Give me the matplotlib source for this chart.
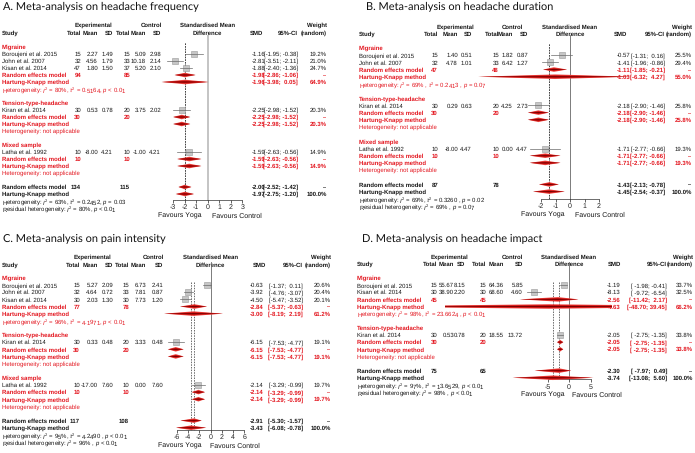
import matplotlib
matplotlib.use('Agg')
import matplotlib.pyplot as plt
from matplotlib.patches import Polygon, Rectangle

plt.rcParams['font.family'] = ['Liberation Sans', 'DejaVu Sans']
plt.rcParams['mathtext.fontset'] = 'custom'
plt.rcParams['mathtext.rm'] = 'Liberation Sans'
plt.rcParams['mathtext.it'] = 'Liberation Sans:italic'
plt.rcParams['mathtext.bf'] = 'Liberation Sans:bold'
plt.rcParams['text.hinting'] = 'no_hinting'
plt.rcParams['text.hinting_factor'] = 1

# ---------------- DATA ----------------
# Panel A: headache frequency
A_title = "A. Meta-analysis on headache frequency"
A_groups = ["Migraine", "Tension-type-headache", "Mixed sample"]
A_studies = ["Boroujeni et al. 2015", "John et al. 2007", "Kisan et al. 2014", "Kiran et al. 2014", "Latha et al. 1992"]
A_group_of = [0, 0, 0, 1, 2]
A_exp_n = [15, 32, 47, 30, 10]
A_exp_mean = [2.27, 4.56, 1.80, 0.53, -8.00]
A_exp_sd = [1.49, 1.79, 1.50, 0.78, 4.21]
A_ctl_n = [15, 33, 37, 20, 10]
A_ctl_mean = [5.09, 10.18, 5.20, 3.75, -1.00]
A_ctl_sd = [2.98, 2.14, 2.10, 2.02, 4.21]
A_smd = [-1.16, -2.81, -1.88, -2.25, -1.59]
A_lo = [-1.95, -3.51, -2.40, -2.98, -2.63]
A_hi = [-0.38, -2.11, -1.36, -1.52, -0.56]
A_w = [19.2, 21.0, 24.7, 20.3, 14.9]
A_sub_n_exp = [94, 30, 10]
A_sub_n_ctl = [85, 20, 10]
A_sub_rem_smd = [-1.98, -2.25, -1.59]
A_sub_rem_lo = [-2.86, -2.98, -2.63]
A_sub_rem_hi = [-1.06, -1.52, -0.56]
A_sub_hk_smd = [-1.96, -2.25, -1.59]
A_sub_hk_lo = [-3.98, -2.98, -2.63]
A_sub_hk_hi = [0.05, -1.52, -0.56]
A_sub_hk_w = [64.9, 20.3, 14.9]
A_sub_het = [r"Heterogeneity: $I^2$ = 80%, $\tau^2$ = 0.5164, $p$ < 0.01",
             "Heterogeneity: not applicable", "Heterogeneity: not applicable"]
A_all_n = [134, 115]
A_all_rem = [-2.00, -2.52, -1.42]
A_all_hk = [-1.97, -2.75, -1.20]
A_all_het = r"Heterogeneity: $I^2$ = 63%, $\tau^2$ = 0.2452, $p$ = 0.03"
A_resid = r"Residual heterogeneity: $I^2$ = 80%, $p$ < 0.01"
A_ticks = [-3, -2, -1, 0, 1, 2, 3]

# Panel B: headache duration
B_title = "B. Meta-analysis on headache duration"
B_groups = ["Migraine", "Tension-type-headache", "Mixed sample"]
B_studies = ["Boroujeni et al. 2015", "John et al. 2007", "Kiran et al. 2014", "Latha et al. 1992"]
B_group_of = [0, 0, 1, 2]
B_exp_n = [15, 32, 30, 10]
B_exp_mean = [1.40, 4.78, 0.29, -8.00]
B_exp_sd = [0.51, 1.01, 0.63, 4.47]
B_ctl_n = [15, 33, 20, 10]
B_ctl_mean = [1.82, 6.42, 4.25, 0.00]
B_ctl_sd = [0.87, 1.27, 2.73, 4.47]
B_smd = [-0.57, -1.41, -2.18, -1.71]
B_lo = [-1.31, -1.96, -2.90, -2.77]
B_hi = [0.16, -0.86, -1.46, -0.66]
B_w = [25.5, 29.4, 25.8, 19.3]
B_sub_n_exp = [47, 30, 10]
B_sub_n_ctl = [48, 20, 10]
B_sub_rem_smd = [-1.11, -2.18, -1.71]
B_sub_rem_lo = [-1.85, -2.90, -2.77]
B_sub_rem_hi = [-0.21, -1.46, -0.66]
B_sub_hk_smd = [-1.03, -2.18, -1.71]
B_sub_hk_lo = [-6.32, -2.90, -2.77]
B_sub_hk_hi = [4.27, -1.46, -0.66]
B_sub_hk_w = [55.0, 25.8, 19.3]
B_sub_het = [r"Heterogeneity: $I^2$ = 69% , $\tau^2$ = 0.2413 , $p$ = 0.07",
             "Heterogeneity: not applicable", "Heterogeneity: not applicable"]
B_all_n = [87, 78]
B_all_rem = [-1.43, -2.13, -0.78]
B_all_hk = [-1.45, -2.54, -0.37]
B_all_het = r"Heterogeneity: $I^2$ = 69%, $\tau^2$ = 0.3260 , $p$ = 0.02"
B_resid = r"Residual heterogeneity: $I^2$ = 69% , $p$ = 0.07"
B_ticks = [-2, -1, 0, 1, 2]

# Panel C: pain intensity
C_title = "C. Meta-analysis on pain intensity"
C_groups = ["Migraine", "Tension-type-headache", "Mixed sample"]
C_studies = ["Boroujeni et al. 2015", "John et al. 2007", "Kisan et al. 2014", "Kiran et al. 2014", "Latha et al. 1992"]
C_group_of = [0, 0, 0, 1, 2]
C_exp_n = [15, 32, 30, 30, 10]
C_exp_mean = [5.27, 4.64, 2.03, 0.33, -17.00]
C_exp_sd = [2.09, 0.72, 1.30, 0.48, 7.60]
C_ctl_n = [15, 33, 30, 20, 10]
C_ctl_mean = [6.73, 7.81, 7.73, 3.33, 0.00]
C_ctl_sd = [2.41, 0.87, 1.20, 0.48, 7.60]
C_smd = [-0.63, -3.92, -4.50, -6.15, -2.14]
C_lo = [-1.37, -4.76, -5.47, -7.53, -3.29]
C_hi = [0.11, -3.07, -3.52, -4.77, -0.99]
C_w = [20.6, 20.4, 20.1, 19.1, 19.7]
C_sub_n_exp = [77, 30, 10]
C_sub_n_ctl = [78, 20, 10]
C_sub_rem_smd = [-2.84, -6.15, -2.14]
C_sub_rem_lo = [-5.37, -7.53, -3.29]
C_sub_rem_hi = [-0.63, -4.77, -0.99]
C_sub_hk_smd = [-3.00, -6.15, -2.14]
C_sub_hk_lo = [-8.19, -7.53, -3.29]
C_sub_hk_hi = [2.19, -4.77, -0.99]
C_sub_hk_w = [61.2, 19.1, 19.7]
C_sub_het = [r"Heterogeneity: $I^2$ = 96%, $\tau^2$ = 4.1971, $p$ < 0.01",
             "Heterogeneity: not applicable", "Heterogeneity: not applicable"]
C_all_n = [117, 108]
C_all_rem = [-2.91, -5.30, -1.57]
C_all_hk = [-3.43, -6.08, -0.78]
C_all_het = r"Heterogeneity: $I^2$ = 95%, $\tau^2$ = 4.2490 , $p$ < 0.01"
C_resid = r"Residual heterogeneity: $I^2$ = 96% , $p$ < 0.01"
C_ticks = [-6, -4, -2, 0, 2, 4, 6]

# Panel D: headache impact
D_title = "D. Meta-analysis on headache impact"
D_groups = ["Migraine", "Tension-type-headache"]
D_studies = ["Boroujeni et al. 2015", "Kisan et al. 2014", "Kiran et al. 2014"]
D_group_of = [0, 0, 1]
D_exp_n = [15, 30, 30]
D_exp_mean = [55.67, 38.90, 0.53]
D_exp_sd = [8.15, 2.20, 0.78]
D_ctl_n = [15, 30, 20]
D_ctl_mean = [64.36, 68.60, 18.55]
D_ctl_sd = [5.85, 4.60, 13.72]
D_smd = [-1.19, -8.13, -2.05]
D_lo = [-1.98, -9.72, -2.75]
D_hi = [-0.41, -6.54, -1.35]
D_w = [33.7, 32.5, 33.8]
D_sub_n_exp = [45, 30]
D_sub_n_ctl = [45, 20]
D_sub_rem_smd = [-2.56, -2.05]
D_sub_rem_lo = [-11.42, -2.75]
D_sub_rem_hi = [2.17, -1.35]
D_sub_hk_smd = [-4.63, -2.05]
D_sub_hk_lo = [-48.70, -2.75]
D_sub_hk_hi = [39.45, -1.35]
D_sub_hk_w = [66.2, 33.8]
D_sub_het = [r"Heterogeneity: $I^2$ = 98%, $\tau^2$ = 23.6624 , $p$ < 0.01",
             "Heterogeneity: not applicable"]
D_all_n = [75, 65]
D_all_rem = [-2.30, -7.97, 0.49]
D_all_hk = [-3.74, -13.08, 5.60]
D_all_het = r"Heterogeneity: $I^2$ = 97%, $\tau^2$ = 13.6529, $p$ < 0.01"
D_resid = r"Residual heterogeneity: $I^2$ = 98% , $p$ < 0.01"
D_ticks = [-5, 0, 5]

# ---------------- LAYOUT (pixels) ----------------
W, H = 695, 453
RED = '#e3161f'
BLK = '#151515'
FS = 4.5
FS_HET = 4.3

LAYOUT = {
    'A': dict(title=(3, 7), study_x=2, cols=[81, 98, 113, 130, 146, 161], exp_c=93, ctl_c=151,
              hdr=(25, 33), y0=47, dy=7.0, zero=207.7, scale=11.55, axis_y=199.5,
              smd_r=265, ci_r=298, w_r=327, smd_c=256, ref_top=36, dash_top=43,
              fav=(202, 212), clip=(150, 262), ref_light=True),
    'B': dict(title=(366, 7), study_x=359, cols=[438, 458, 472, 499, 513, 528], exp_c=455, ctl_c=512,
              hdr=(27, 34), y0=48, dy=7.18, zero=570, scale=14.5, axis_y=198.5,
              smd_r=630, ci_r=665, w_r=692, smd_c=620, ref_top=35, dash_top=44,
              fav=(565, 575), clip=(440, 634), ref_light=False),
    'C': dict(title=(3, 239), study_x=2, cols=[80, 98, 113, 129, 146, 163], exp_c=92, ctl_c=153,
              hdr=(257, 265), y0=278, dy=7.13, zero=210.5, scale=5.65, axis_y=429.5,
              smd_r=263, ci_r=303, w_r=331, smd_c=259, ref_top=262, dash_top=282,
              fav=(202, 210), clip=(150, 250), ref_light=False),
    'D': dict(title=(362, 239), study_x=357, cols=[437.5, 454, 465, 486.5, 504, 523], exp_c=449, ctl_c=512,
              hdr=(257, 264), y0=278, dy=7.125, zero=569, scale=4.3, axis_y=379,
              smd_r=620, ci_r=667, w_r=693, smd_c=614, ref_top=262, dash_top=282,
              fav=(565, 572), clip=(445, 612), ref_light=False),
}

fig = plt.figure(figsize=(W / 100, H / 100), dpi=100)
ov = fig.add_axes([0, 0, 1, 1])
ov.set_xlim(0, W)
ov.set_ylim(H, 0)
ov.axis('off')


def txt(x, y, s, ha='left', color=BLK, weight='normal', size=FS):
    ov.text(x, y, s, ha=ha, va='center_baseline', color=color, fontweight=weight, fontsize=size)


def ci_str(lo, hi, wl, wh):
    return "[" + f"{lo:.2f}".rjust(wl) + "; " + f"{hi:.2f}".rjust(wh) + "]"


def diamond(ax, yy, est, lo, hi, h, clip):
    layers = [(1.0, '#ec4a44'), (0.62, '#d0100f'), (0.26, '#7a0000')]
    for f, col in layers:
        poly = Polygon([(lo, yy), (est, yy - h * f / 2), (hi, yy), (est, yy + h * f / 2)],
                       closed=True, fc=col, ec='none', zorder=3)
        ax.add_patch(poly)
        rect = Rectangle((clip[0], 0), clip[1] - clip[0], H, transform=ov.transData)
        poly.set_clip_path(rect)


def draw_panel(P, L):
    ov.text(L['title'][0], L['title'][1], P['title'], fontsize=8.0, family=['Lato', 'DejaVu Sans'],
            ha='left', va='center', color='#111111')
    h1, h2 = L['hdr']
    c = L['cols']
    txt(L['exp_c'], h1, 'Experimental', ha='center', weight='bold')
    txt(L['ctl_c'], h1, 'Control', ha='center', weight='bold')
    txt(L['zero'], h1, 'Standardised Mean', ha='center', weight='bold')
    txt(L['w_r'], h1, 'Weight', ha='right', weight='bold')
    txt(L['study_x'], h2, 'Study', weight='bold')
    for x, lab in zip(c, ['Total', 'Mean', 'SD', 'Total', 'Mean', 'SD']):
        txt(x, h2, lab, ha='right', weight='bold')
    txt(L['zero'], h2, 'Difference', ha='center', weight='bold')
    txt(L['smd_c'], h2, 'SMD', ha='center', weight='bold')
    txt(L['ci_r'], h2, '95%-CI', ha='right', weight='bold')
    txt(L['w_r'], h2, '(random)', ha='right', weight='bold')

    ticks = P['ticks']
    t0, t1 = ticks[0], ticks[-1]
    ax = fig.add_axes([(L['zero'] + t0 * L['scale']) / W, 0, (t1 - t0) * L['scale'] / W, 1])
    ax.set_xlim(t0, t1)
    ax.set_ylim(H, 0)
    ax.patch.set_alpha(0)
    for s in ['top', 'right', 'left']:
        ax.spines[s].set_visible(False)
    ax.spines['bottom'].set_position(('data', L['axis_y']))
    ax.spines['bottom'].set_bounds(t0, t1)
    ax.spines['bottom'].set_linewidth(0.5)
    ax.spines['bottom'].set_color('#333333')
    ax.set_xticks(ticks)
    ax.set_xticklabels([f"{t:d}" for t in ticks])
    ax.set_yticks([])
    ax.tick_params(axis='x', labelsize=5.1, length=2, width=0.5, pad=1.2, colors='#222222')

    # reference line at zero
    if L['ref_light']:
        ax.plot([0, 0], [L['ref_top'], L['axis_y']], color='#c4c4c4', lw=1.4, clip_on=False, zorder=1)
    else:
        ax.plot([0, 0], [L['ref_top'], L['axis_y']], color='#666666', lw=0.6, clip_on=False, zorder=1)
    # dashed lines at pooled estimates
    for est in [P['all_rem'][0], P['all_hk'][0]]:
        ax.plot([est, est], [L['dash_top'], L['axis_y']], color='#333333', lw=0.5,
                ls=(0, (2.2, 1.6)), clip_on=False, zorder=2)

    # favours labels
    txt(L['fav'][0], L['axis_y'] + 15.5, 'Favours Yoga', ha='right', size=4.8)
    txt(L['fav'][1], L['axis_y'] + 15.5, 'Favours Control', ha='left', size=4.8)

    all_lo = list(P['lo']) + list(P['rem_lo']) + list(P['hk_lo']) + [P['all_rem'][1], P['all_hk'][1]]
    all_hi = list(P['hi']) + list(P['rem_hi']) + list(P['hk_hi']) + [P['all_rem'][2], P['all_hk'][2]]
    wl = max(len(f"{v:.2f}") for v in all_lo)
    wh = max(len(f"{v:.2f}") for v in all_hi)
    wmax = max(P['w'])

    def Y(k):
        return L['y0'] + k * L['dy']

    k = 0
    dh = 4.6
    for g, gname in enumerate(P['groups']):
        txt(L['study_x'], Y(k), gname, color=RED, weight='bold')
        k += 1
        for i, gi in enumerate(P['group_of']):
            if gi != g:
                continue
            yy = Y(k)
            txt(L['study_x'], yy, P['studies'][i])
            vals = [f"{P['en'][i]}", f"{P['em'][i]:.2f}", f"{P['es'][i]:.2f}",
                    f"{P['cn'][i]}", f"{P['cm'][i]:.2f}", f"{P['cs'][i]:.2f}"]
            for x, v in zip(c, vals):
                txt(x, yy, v, ha='right')
            txt(L['smd_r'], yy, f"{P['smd'][i]:.2f}", ha='right')
            txt(L['ci_r'], yy, ci_str(P['lo'][i], P['hi'][i], wl, wh), ha='right')
            txt(L['w_r'], yy, f"{P['w'][i]:.1f}%", ha='right')
            side = 4.0 + 2.0 * P['w'][i] / wmax
            ax.plot(P['smd'][i], yy, marker='s', ms=side * 0.72, mfc='#c6c6c6', mec='#9a9a9a',
                    mew=0.4, clip_on=False, zorder=3)
            ax.plot([P['lo'][i], P['hi'][i]], [yy, yy], color='#6a6a6a', lw=0.5, clip_on=False, zorder=4)
            k += 1
        # random effects model (subgroup)
        yy = Y(k)
        txt(L['study_x'], yy, 'Random effects model', color=RED, weight='bold')
        txt(c[0], yy, f"{P['sub_n_e'][g]}", ha='right', color=RED, weight='bold')
        txt(c[3], yy, f"{P['sub_n_c'][g]}", ha='right', color=RED, weight='bold')
        txt(L['smd_r'], yy, f"{P['rem_smd'][g]:.2f}", ha='right', color=RED, weight='bold')
        txt(L['ci_r'], yy, ci_str(P['rem_lo'][g], P['rem_hi'][g], wl, wh), ha='right', color=RED, weight='bold')
        txt(L['w_r'], yy, '--', ha='right', color=RED, weight='bold')
        diamond(ax, yy, P['rem_smd'][g], P['rem_lo'][g], P['rem_hi'][g], dh, L['clip'])
        k += 1
        yy = Y(k)
        txt(L['study_x'], yy, 'Hartung-Knapp method', color=RED, weight='bold')
        txt(L['smd_r'], yy, f"{P['hk_smd'][g]:.2f}", ha='right', color=RED, weight='bold')
        txt(L['ci_r'], yy, ci_str(P['hk_lo'][g], P['hk_hi'][g], wl, wh), ha='right', color=RED, weight='bold')
        txt(L['w_r'], yy, f"{P['hk_w'][g]:.1f}%", ha='right', color=RED, weight='bold')
        diamond(ax, yy, P['hk_smd'][g], P['hk_lo'][g], P['hk_hi'][g], dh, L['clip'])
        k += 1
        txt(L['study_x'], Y(k), P['sub_het'][g], color=RED, size=FS_HET)
        k += 2
    # overall
    yy = Y(k)
    txt(L['study_x'], yy, 'Random effects model', weight='bold')
    txt(c[0], yy, f"{P['all_n'][0]}", ha='right', weight='bold')
    txt(c[3], yy, f"{P['all_n'][1]}", ha='right', weight='bold')
    txt(L['smd_r'], yy, f"{P['all_rem'][0]:.2f}", ha='right', weight='bold')
    txt(L['ci_r'], yy, ci_str(P['all_rem'][1], P['all_rem'][2], wl, wh), ha='right', weight='bold')
    txt(L['w_r'], yy, '--', ha='right', weight='bold')
    diamond(ax, yy, P['all_rem'][0], P['all_rem'][1], P['all_rem'][2], dh, L['clip'])
    k += 1
    yy = Y(k)
    txt(L['study_x'], yy, 'Hartung-Knapp method', weight='bold')
    txt(L['smd_r'], yy, f"{P['all_hk'][0]:.2f}", ha='right', weight='bold')
    txt(L['ci_r'], yy, ci_str(P['all_hk'][1], P['all_hk'][2], wl, wh), ha='right', weight='bold')
    txt(L['w_r'], yy, '100.0%', ha='right', weight='bold')
    diamond(ax, yy, P['all_hk'][0], P['all_hk'][1], P['all_hk'][2], dh, L['clip'])
    k += 1
    txt(L['study_x'], Y(k), P['all_het'], size=FS_HET)
    k += 1
    txt(L['study_x'], Y(k), P['resid'], size=FS_HET)


def pack(pfx):
    g = globals()
    return dict(title=g[pfx + '_title'], groups=g[pfx + '_groups'], studies=g[pfx + '_studies'],
                group_of=g[pfx + '_group_of'], en=g[pfx + '_exp_n'], em=g[pfx + '_exp_mean'],
                es=g[pfx + '_exp_sd'], cn=g[pfx + '_ctl_n'], cm=g[pfx + '_ctl_mean'], cs=g[pfx + '_ctl_sd'],
                smd=g[pfx + '_smd'], lo=g[pfx + '_lo'], hi=g[pfx + '_hi'], w=g[pfx + '_w'],
                sub_n_e=g[pfx + '_sub_n_exp'], sub_n_c=g[pfx + '_sub_n_ctl'],
                rem_smd=g[pfx + '_sub_rem_smd'], rem_lo=g[pfx + '_sub_rem_lo'], rem_hi=g[pfx + '_sub_rem_hi'],
                hk_smd=g[pfx + '_sub_hk_smd'], hk_lo=g[pfx + '_sub_hk_lo'], hk_hi=g[pfx + '_sub_hk_hi'],
                hk_w=g[pfx + '_sub_hk_w'], sub_het=g[pfx + '_sub_het'], all_n=g[pfx + '_all_n'],
                all_rem=g[pfx + '_all_rem'], all_hk=g[pfx + '_all_hk'], all_het=g[pfx + '_all_het'],
                resid=g[pfx + '_resid'], ticks=g[pfx + '_ticks'])


for key in ['A', 'B', 'C', 'D']:
    draw_panel(pack(key), LAYOUT[key])

fig.savefig('out.png', dpi=100, facecolor='white')
